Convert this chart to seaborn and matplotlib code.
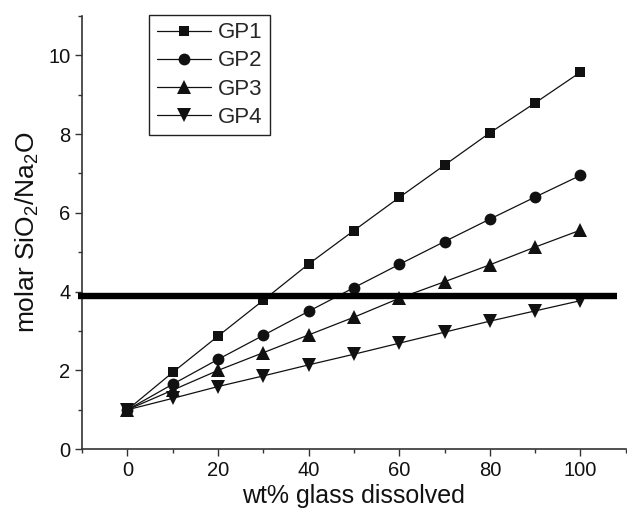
import pandas as pd
import numpy as np
import matplotlib
matplotlib.use("Agg")
import matplotlib.pyplot as plt
import seaborn as sns
from matplotlib.ticker import MultipleLocator

sns.set_style("ticks")
plt.rcParams['font.family'] = ['Liberation Sans', 'DejaVu Sans']
plt.rcParams['mathtext.fontset'] = 'custom'
plt.rcParams['mathtext.rm'] = 'Liberation Sans'
plt.rcParams['mathtext.it'] = 'Liberation Sans'

# data
wt_dissolved = [0, 10, 20, 30, 40, 50, 60, 70, 80, 90, 100]
gp1 = [1.0, 1.95, 2.87, 3.78, 4.70, 5.55, 6.39, 7.21, 8.03, 8.79, 9.57]
gp2 = [1.0, 1.65, 2.28, 2.89, 3.50, 4.10, 4.69, 5.27, 5.84, 6.40, 6.95]
gp3 = [1.0, 1.50, 2.00, 2.45, 2.90, 3.35, 3.83, 4.25, 4.68, 5.13, 5.56]
gp4 = [1.0, 1.29, 1.59, 1.86, 2.14, 2.41, 2.69, 2.97, 3.25, 3.51, 3.77]
series_names = ["GP1", "GP2", "GP3", "GP4"]
threshold = 3.9
threshold_span = [-11, 108]

df = pd.DataFrame({"wt": wt_dissolved * 4,
                   "ratio": gp1 + gp2 + gp3 + gp4,
                   "series": np.repeat(series_names, len(wt_dissolved))})

markers = {"GP1": ("s", 7.5), "GP2": ("o", 8.5), "GP3": ("^", 10), "GP4": ("v", 10)}

fig = plt.figure(figsize=(6.27, 5.11), dpi=100)
ax = fig.add_axes([0.131, 0.121, 0.867, 0.848])

for name in series_names:
    m, ms = markers[name]
    sns.lineplot(data=df[df.series == name], x="wt", y="ratio", ax=ax,
                 color="#111111", lw=0.9, marker=m, markersize=ms,
                 markeredgewidth=0, label=name, zorder=3)

# thick reference line
ax.plot(threshold_span, [threshold, threshold], color="black", lw=4.6,
        solid_capstyle="butt", clip_on=False, zorder=4)

ax.set_xlim(-10, 110)
ax.set_ylim(0, 11)
ax.xaxis.set_major_locator(MultipleLocator(20))
ax.xaxis.set_minor_locator(MultipleLocator(10))
ax.yaxis.set_major_locator(MultipleLocator(2))
ax.yaxis.set_minor_locator(MultipleLocator(1))
ax.tick_params(which="major", direction="out", length=5, width=1, labelsize=14.5,
               color="#333333", labelcolor="#111111")
ax.tick_params(which="minor", direction="out", length=3, width=1, color="#333333")
for s in ["top", "right"]:
    ax.spines[s].set_visible(False)
for s in ["left", "bottom"]:
    ax.spines[s].set_color("#333333")
    ax.spines[s].set_linewidth(1.2)

ax.set_xlabel("wt% glass dissolved", fontsize=18, color="#111111", labelpad=3)
ax.set_ylabel("molar SiO$_2$/Na$_2$O", fontsize=19, color="#111111", labelpad=5)

leg = ax.legend(loc="upper left", bbox_to_anchor=(0.123, 1.003), fontsize=16,
                frameon=True, fancybox=False, framealpha=1, edgecolor="#222222",
                handlelength=2.45, handletextpad=0.3, labelspacing=0.32,
                borderpad=0.35, borderaxespad=0)
leg.get_frame().set_linewidth(1.0)

fig.savefig("out.png", dpi=100)
